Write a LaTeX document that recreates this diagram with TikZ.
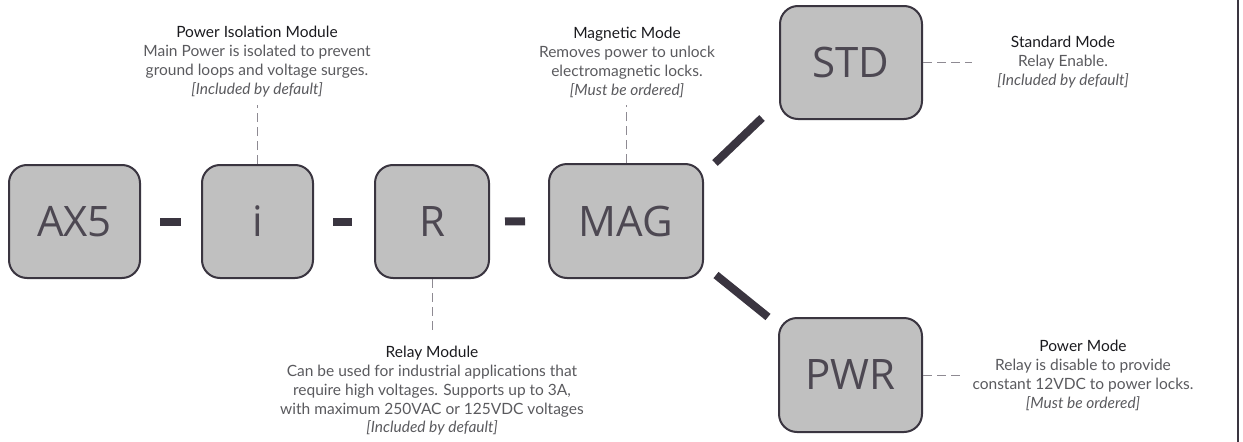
\documentclass[tikz,border=0pt]{standalone}
\usepackage{fontspec}
\setmainfont{Lato}
\newfontfamily\boxfont{Open Sans}
\usetikzlibrary{positioning, calc}

\definecolor{boxfill}{HTML}{C0C0C0}
\definecolor{boxline}{HTML}{3A3540}
\definecolor{boxtext}{HTML}{4D4852}
\definecolor{notetext}{HTML}{5A5A5E}
\definecolor{notehead}{HTML}{1A1A1E}
\definecolor{leadgray}{HTML}{8E8A92}

\begin{document}
\begin{tikzpicture}[x=1pt,y=-1pt,
         code node/.style={draw=boxline, fill=boxfill, line width=2pt, rounded corners=18pt, inner sep=0pt,
                           text=boxtext, font=\boxfont\fontsize{42}{42}\selectfont},
         note node/.style={align=center, inner sep=0pt, anchor=north, text=notetext,
                           font=\fontsize{15.5}{18.8}\selectfont},
         link/.style={boxline, line width=8pt},
         leader/.style={leadgray, line width=1pt, dash pattern=on 9pt off 5pt}]
       \useasboundingbox (0,0) rectangle (1243,442);

       % part number codes
       \node[code node, minimum width=131pt, minimum height=113pt] (AX5) at (74.5,221.5) {AX5};
       \node[code node, minimum width=111pt, minimum height=113pt] (i) at (257.5,221.5) {i};
       \node[code node, minimum width=114pt, minimum height=113pt] (R) at (432,221.5) {R};
       \node[code node, minimum width=154pt, minimum height=114pt] (MAG) at (626,221) {MAG};
       \node[code node, minimum width=142pt, minimum height=113pt] (STD) at (851,62.5) {STD};
       \node[code node, minimum width=143pt, minimum height=114pt] (PWR) at (850.5,375) {PWR};

       % notes
       \node[note node] (isonote) at (257,26) {{\color{notehead}Power Isolation Module}\\
         Main Power is isolated to prevent\\ ground loops and voltage surges.\\ \textit{[Included by default]}};
       \node[note node] (magnote) at (627,27) {{\color{notehead}Magnetic Mode}\\
         Removes power to unlock\\ electromagnetic locks.\\ \textit{[Must be ordered]}};
       \node[note node] (relaynote) at (432,346) {{\color{notehead}Relay Module}\\
         Can be used for industrial applications that\\ require high voltages. Supports up to 3A,\\
         with maximum 250VAC or 125VDC voltages\\ \textit{[Included by default]}};
       \node[note node] (stdnote) at (1063,36) {{\color{notehead}Standard Mode}\\
         Relay Enable.\\ \textit{[Included by default]}};
       \node[note node] (pwrnote) at (1083,340) {{\color{notehead}Power Mode}\\
         Relay is disable to provide\\ constant 12VDC to power locks.\\ \textit{[Must be ordered]}};

       % dashes between the codes
       \foreach \s/\t/\a/\b in {AX5/i/19/20, i/R/19/22, R/MAG/15/23} {
        \draw[link, shorten <=\a pt, shorten >=\b pt] (\s) -- (\t);}

       % branches to the modes
       \coordinate (up0) at (715,163);
       \coordinate (up1) at (762,118);
       \coordinate (dn0) at (716,275);
       \coordinate (dn1) at (768,317);
       \draw[link] (up0) -- (up1);
       \draw[link] (dn0) -- (dn1);

       % leaders to the notes
       \draw[leader, shorten >=8pt] (i.north) -- (i.north |- isonote.south);
       \draw[leader, shorten >=8pt] (MAG.north) -- (MAG.north |- magnote.south);
       \draw[leader, shorten >=13pt] (R.south) -- (R.south |- relaynote.north);
       \draw[leader, shorten >=25pt] (STD.east) -- (STD.east -| stdnote.west);
       \draw[leader, shorten >=9pt] (PWR.east) -- (PWR.east -| pwrnote.west);

       % frame edge
       \draw[boxline, line width=2pt] (1238,0) -- (1238,442);
      \end{tikzpicture}
\end{document}
